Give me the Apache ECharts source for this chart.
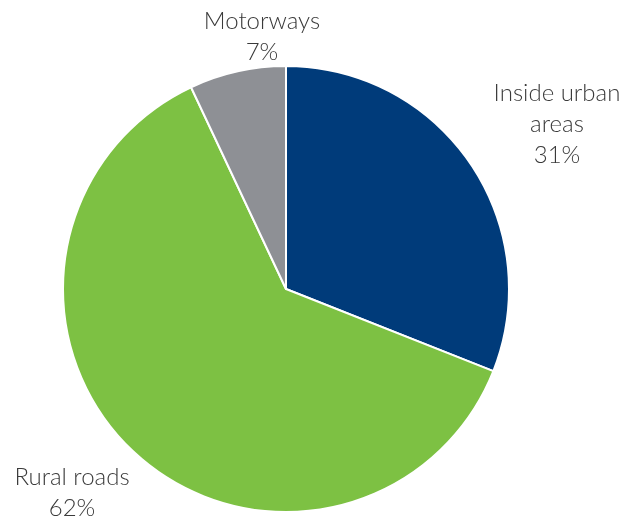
<!DOCTYPE html>
<html><head><meta charset="utf-8">
<script src="https://cdn.jsdelivr.net/npm/echarts@6/dist/echarts.min.js"></script>
<style>html,body{margin:0;padding:0;background:#fff}#c{width:627px;height:525px}</style>
</head><body><div id="c"></div>
<script>
const categories = ["Inside urban\nareas", "Rural roads", "Motorways"];
const values = [31, 62, 7];
const colors = ["#003B7A", "#7DC143", "#8E9095"];
// label anchor (layout only)
const labelAnchors = [[557, 124], [72, 493], [262, 37]];

const chart = echarts.init(document.getElementById('c'));
chart.setOption({
  animation: false,
  series: [{
    type: 'pie',
    center: [286, 289],
    radius: 223,
    startAngle: 90,
    clockwise: true,
    data: categories.map((n, i) => ({ name: n, value: values[i], itemStyle: { color: colors[i] } })),
    itemStyle: { borderColor: '#fff', borderWidth: 2 },
    label: {
      show: true,
      position: 'outside',
      formatter: p => p.name + '\n' + p.value + '%',
      fontFamily: 'Lato',
      fontWeight: 300,
      fontSize: 24,
      lineHeight: 31,
      color: '#3a3a3a',
      overflow: 'none',
      width: 300,
      align: 'center'
    },
    labelLine: { show: false },
    labelLayout: p => ({
      x: labelAnchors[p.dataIndex][0],
      y: labelAnchors[p.dataIndex][1],
      align: 'center',
      verticalAlign: 'middle'
    })
  }]
});
</script></body></html>
